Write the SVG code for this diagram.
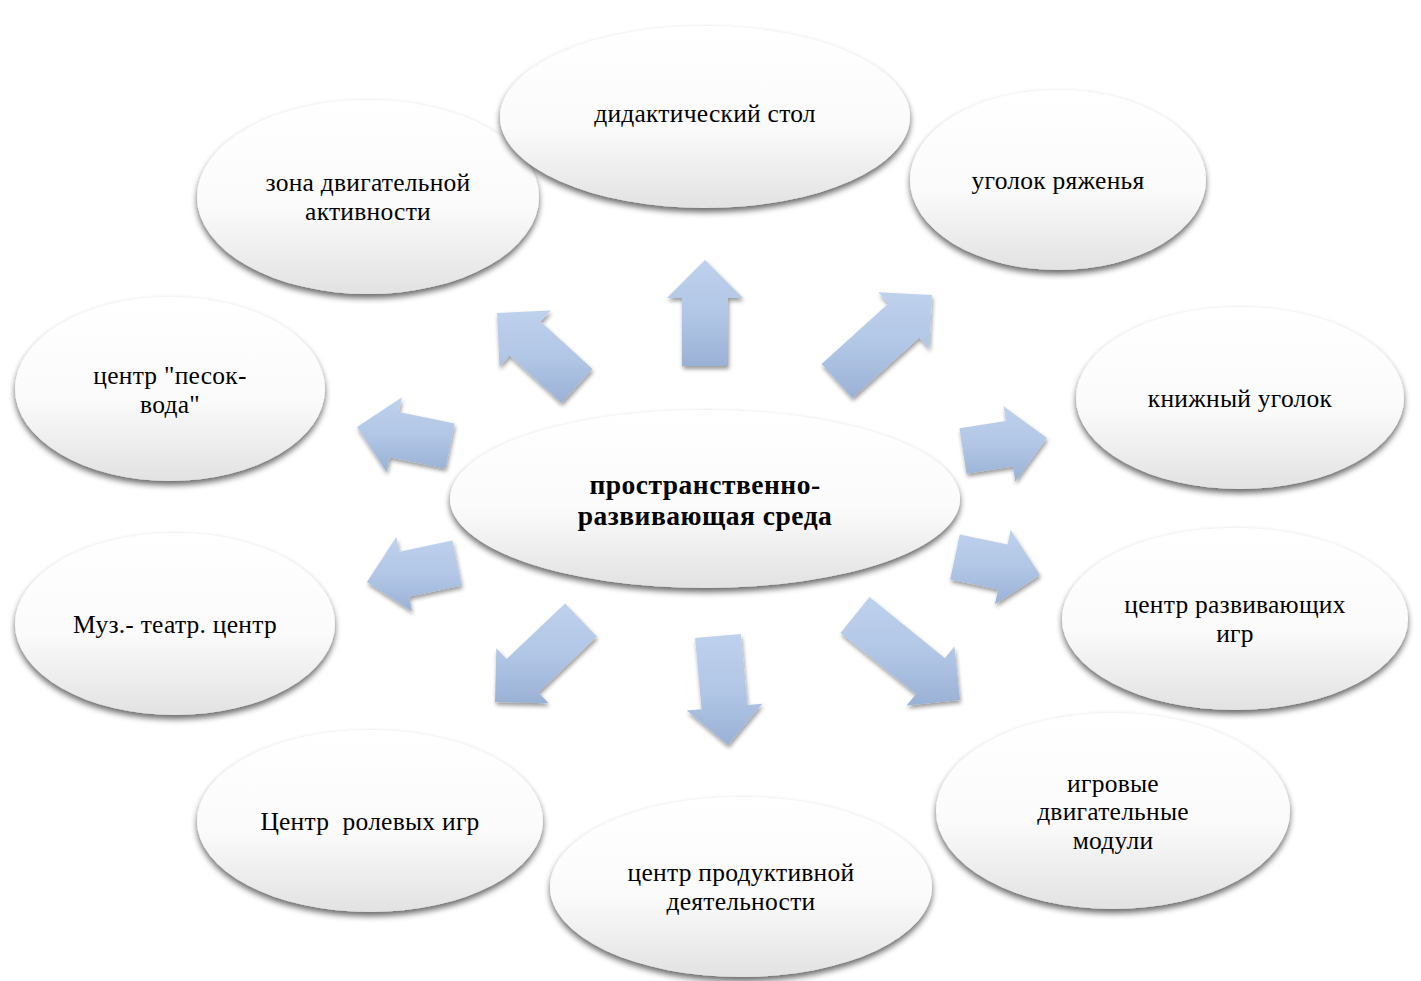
<svg xmlns="http://www.w3.org/2000/svg" width="1421" height="981" viewBox="0 0 1421 981">
<defs>
<linearGradient id="eg" x1="0" y1="0" x2="0" y2="1">
<stop offset="0" stop-color="#ffffff"/>
<stop offset="0.55" stop-color="#fbfbfb"/>
<stop offset="1" stop-color="#e2e2e2"/>
</linearGradient>
<linearGradient id="ag" x1="0" y1="0" x2="0" y2="1">
<stop offset="0" stop-color="#bed1ed"/>
<stop offset="0.5" stop-color="#b2c7e6"/>
<stop offset="1" stop-color="#9ab1d6"/>
</linearGradient>
<filter id="sh" x="-10%" y="-10%" width="120%" height="130%">
<feGaussianBlur in="SourceAlpha" stdDeviation="3"/>
<feOffset dx="0" dy="4" result="b"/>
<feComponentTransfer><feFuncA type="linear" slope="0.6"/></feComponentTransfer>
<feMerge><feMergeNode/><feMergeNode in="SourceGraphic"/></feMerge>
</filter>
<filter id="ash" x="-20%" y="-20%" width="140%" height="140%">
<feGaussianBlur in="SourceAlpha" stdDeviation="2"/>
<feOffset dx="1" dy="3" result="b"/>
<feComponentTransfer><feFuncA type="linear" slope="0.4"/></feComponentTransfer>
<feMerge><feMergeNode/><feMergeNode in="SourceGraphic"/></feMerge>
</filter>
</defs>
<style>
.n{fill:url(#eg);filter:url(#sh);}
.a{fill:url(#ag);filter:url(#ash);}
text{font-family:"Liberation Serif","Times New Roman",serif;font-size:25.5px;letter-spacing:0.25px;fill:#000;text-anchor:middle;white-space:pre;}
.b{font-weight:bold;font-size:27.5px;letter-spacing:0.5px;}
</style>
<rect width="1421" height="981" fill="#ffffff"/>
<g id="connectors">
<polygon class="a" points="705,260 743,298 728,298 728,366 682,366 682,298 667,298"/>
<polygon class="a" points="932,295 929.3,348.7 919.3,337.6 852.4,398.1 821.6,363.9 888.4,303.5 878.3,292.3"/>
<polygon class="a" points="497,313 550.7,310.5 540.6,321.6 592.5,369 561.5,403 509.6,355.6 499.5,366.7"/>
<polygon class="a" points="357,427 401.8,397.4 398.8,412.1 454.6,423.5 445.4,468.5 389.6,457.2 386.6,471.9"/>
<polygon class="a" points="367,582 396.3,537 399.4,551.7 452.3,540.5 461.8,585.5 409,596.7 412,611.3"/>
<polygon class="a" points="495,702 496.3,648.3 506.6,659.1 565.1,603.4 596.9,636.6 538.4,692.4 548.7,703.3"/>
<polygon class="a" points="728,745 686.7,710.6 701.6,709.3 695.1,638.1 740.9,633.9 747.4,705.1 762.4,703.7"/>
<polygon class="a" points="960,700 906.6,705.6 916,694 840.5,632.9 869.5,597.1 944.9,658.2 954.4,646.6"/>
<polygon class="a" points="1040,575 995,604.3 998.1,589.6 950.2,579.5 959.8,534.5 1007.6,544.6 1010.7,530"/>
<polygon class="a" points="1047,438 1015.3,481.4 1013,466.5 966.5,473.7 959.5,428.3 1005.9,421.1 1003.6,406.3"/>
</g>
<g id="n-zona">
<ellipse class="n" cx="368" cy="197" rx="171" ry="97"/>
<text x="368" y="191.25">зона двигательной</text>
<text x="368" y="219.75">активности</text>
</g>
<g id="n-ugolok-ryazh">
<ellipse class="n" cx="1058" cy="180" rx="148" ry="90"/>
<text x="1058" y="189">уголок ряженья</text>
</g>
<g id="n-didakt">
<ellipse class="n" cx="705" cy="117" rx="205" ry="91"/>
<text x="705" y="122">дидактический стол</text>
</g>
<g id="n-pesok">
<ellipse class="n" cx="170" cy="389" rx="155" ry="92"/>
<text x="170" y="384.25">центр "песок-</text>
<text x="170" y="412.75">вода"</text>
</g>
<g id="n-knizh">
<ellipse class="n" cx="1240" cy="398" rx="164" ry="91"/>
<text x="1240" y="407">книжный уголок</text>
</g>
<g id="n-center">
<ellipse class="n" cx="705" cy="499" rx="255" ry="89"/>
<text class="b" x="705" y="494.25">пространственно-</text>
<text class="b" x="705" y="524.75">развивающая среда</text>
</g>
<g id="n-muz">
<ellipse class="n" cx="175" cy="624" rx="160" ry="91"/>
<text x="175" y="633">Муз.- театр. центр</text>
</g>
<g id="n-razv">
<ellipse class="n" cx="1235" cy="619" rx="173" ry="91"/>
<text x="1235" y="613.25">центр развивающих</text>
<text x="1235" y="641.75">игр</text>
</g>
<g id="n-rol">
<ellipse class="n" cx="370" cy="821" rx="173" ry="91"/>
<text x="370" y="830">Центр  ролевых игр</text>
</g>
<g id="n-prod">
<ellipse class="n" cx="741" cy="887" rx="191" ry="90"/>
<text x="741" y="881.25">центр продуктивной</text>
<text x="741" y="909.75">деятельности</text>
</g>
<g id="n-igr">
<ellipse class="n" cx="1113" cy="811" rx="177" ry="98"/>
<text x="1113" y="791.5">игровые</text>
<text x="1113" y="820">двигательные</text>
<text x="1113" y="848.5">модули</text>
</g>
</svg>
